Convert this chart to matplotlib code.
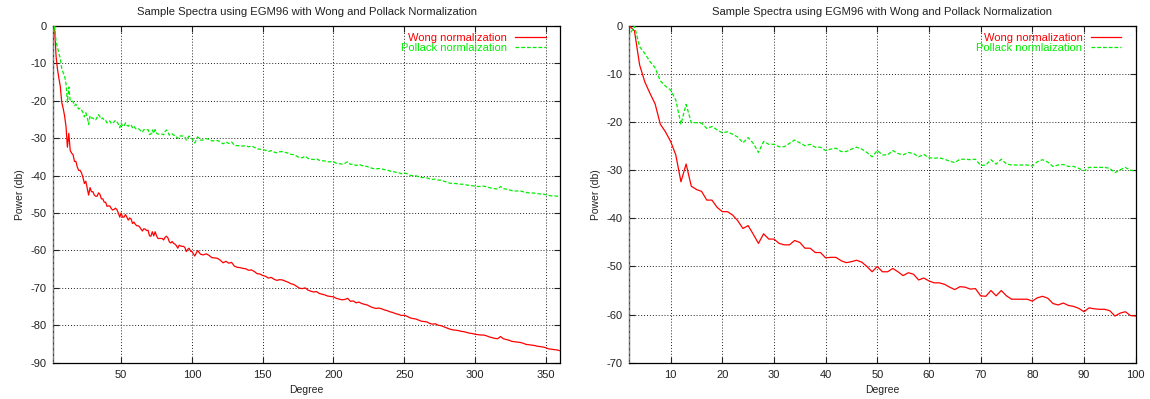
import numpy as np
import matplotlib
matplotlib.use('Agg')
import matplotlib.pyplot as plt

plt.rcParams['font.family'] = ['Liberation Sans', 'DejaVu Sans']
plt.rcParams['axes.unicode_minus'] = False

# degrees 2..100 read one by one, 102..360 read every second degree
deg_low = list(range(2, 101))
deg_high = list(range(102, 361, 2))
degrees = [2] + deg_low + deg_high

# both curves drop off the bottom at the first degree (vertical line on the axis)
floor_db = -100.0

wong_low = [
    0.0, -1.0, -8.1, -11.6, -14.0, -16.2, -20.4, -22.0, -24.0, -26.8,
    -32.4, -28.7, -33.3, -34.0, -34.4, -36.2, -36.2, -37.7, -38.6, -38.6,
    -39.3, -40.5, -42.1, -41.5, -43.3, -45.2, -43.2, -44.3, -44.3, -45.2,
    -45.5, -45.5, -44.6, -45.0, -46.2, -46.2, -47.1, -47.1, -48.2, -48.1,
    -48.1, -48.8, -49.2, -49.0, -48.7, -49.1, -50.0, -51.1, -50.0, -51.1,
    -51.1, -50.4, -51.1, -51.9, -51.3, -51.6, -52.8, -52.4, -53.0, -53.4,
    -53.4, -53.7, -54.3, -54.8, -54.2, -54.3, -54.7, -54.6, -56.1, -56.2,
    -55.0, -56.1, -55.0, -56.1, -56.8, -56.8, -56.8, -56.8, -57.2, -56.5,
    -56.2, -56.6, -57.7, -58.0, -57.6, -58.1, -58.3, -58.7, -59.4, -58.6,
    -58.8, -58.9, -58.9, -59.2, -60.3, -59.7, -59.4, -60.2, -60.3,
]
wong_high = [
    -61.5, -60.0, -61.0, -61.2, -60.9, -61.3, -61.9, -62.0, -62.1, -62.6,
    -63.3, -62.9, -63.4, -63.2, -64.2, -64.5, -64.6, -64.8, -64.9, -65.3,
    -65.2, -65.6, -66.2, -66.3, -66.7, -66.9, -67.4, -67.2, -67.7, -68.0,
    -67.8, -67.9, -68.2, -68.5, -68.9, -69.1, -69.6, -70.1, -70.2, -70.0,
    -70.6, -70.9, -71.1, -71.0, -71.5, -71.7, -71.9, -72.2, -72.3, -72.4,
    -72.8, -73.0, -73.2, -73.1, -72.8, -73.6, -73.5, -74.0, -73.8, -74.2,
    -74.4, -74.6, -75.0, -75.3, -75.5, -75.4, -75.6, -75.9, -76.1, -76.4,
    -76.6, -76.9, -77.1, -77.4, -77.3, -77.6, -78.0, -78.2, -78.3, -78.6,
    -78.9, -79.0, -79.1, -79.5, -79.7, -79.6, -80.0, -80.1, -80.4, -80.7,
    -81.0, -81.2, -81.3, -81.4, -81.6, -81.7, -81.9, -82.1, -82.2, -82.4,
    -82.5, -82.6, -82.6, -82.8, -83.1, -83.3, -83.5, -83.6, -83.0, -83.6,
    -83.8, -84.0, -84.3, -84.4, -84.5, -84.6, -84.8, -85.1, -85.2, -85.3,
    -85.4, -85.6, -85.7, -85.8, -86.0, -86.3, -86.4, -86.5, -86.6, -86.8,
]

pollack_low = [
    -2.0, 0.0, -4.3, -5.7, -7.4, -8.7, -11.4, -12.5, -13.3, -15.4,
    -20.4, -16.3, -20.1, -20.1, -20.2, -21.3, -20.9, -21.6, -22.2, -22.0,
    -22.5, -23.1, -24.3, -23.2, -24.4, -26.3, -24.0, -24.6, -24.6, -25.1,
    -25.1, -24.4, -23.7, -24.3, -24.9, -24.6, -25.2, -25.2, -25.9, -25.6,
    -25.4, -26.1, -26.1, -25.6, -25.2, -25.6, -26.3, -27.2, -25.9, -26.8,
    -26.8, -25.9, -26.5, -26.8, -26.3, -26.5, -27.2, -26.7, -27.4, -27.5,
    -27.4, -27.7, -28.1, -28.4, -27.7, -27.7, -27.8, -27.7, -29.0, -28.9,
    -27.8, -28.7, -27.7, -28.7, -28.9, -28.9, -28.9, -28.9, -29.1, -28.2,
    -27.8, -28.3, -29.2, -28.9, -28.8, -29.2, -29.2, -29.6, -30.1, -29.4,
    -29.4, -29.4, -29.4, -29.6, -30.5, -29.9, -29.4, -30.0, -30.1,
]
pollack_high = [
    -31.3, -29.6, -30.5, -30.5, -30.1, -30.3, -30.7, -30.7, -30.6, -31.0,
    -31.5, -31.0, -31.4, -31.0, -31.9, -32.0, -32.0, -32.1, -32.0, -32.3,
    -32.1, -32.4, -32.9, -32.9, -33.1, -33.2, -33.6, -33.3, -33.7, -33.9,
    -33.6, -33.6, -33.8, -34.0, -34.3, -34.4, -34.8, -35.2, -35.2, -34.8,
    -35.4, -35.6, -35.7, -35.5, -35.9, -36.0, -36.1, -36.3, -36.3, -36.3,
    -36.7, -36.8, -36.9, -36.7, -36.3, -37.0, -36.9, -37.3, -37.0, -37.3,
    -37.4, -37.6, -37.9, -38.1, -38.2, -38.1, -38.2, -38.4, -38.5, -38.8,
    -38.9, -39.1, -39.2, -39.5, -39.3, -39.5, -39.9, -40.0, -40.0, -40.3,
    -40.5, -40.5, -40.6, -40.9, -41.0, -40.9, -41.2, -41.2, -41.5, -41.7,
    -42.0, -42.1, -42.1, -42.2, -42.3, -42.3, -42.5, -42.6, -42.7, -42.8,
    -42.9, -42.9, -42.8, -43.0, -43.2, -43.4, -43.5, -43.6, -42.9, -43.5,
    -43.6, -43.8, -44.0, -44.1, -44.1, -44.1, -44.3, -44.5, -44.6, -44.6,
    -44.7, -44.8, -44.9, -44.9, -45.1, -45.3, -45.4, -45.4, -45.5, -45.6,
]

wong = [floor_db] + wong_low + wong_high
pollack = [floor_db] + pollack_low + pollack_high

title = 'Sample Spectra using EGM96 with Wong and Pollack Normalization'
panels = [
    # xlim, ylim, xticks
    ((2, 360), (-90, 0), list(range(50, 351, 50))),
    ((2, 100), (-70, 0), list(range(10, 101, 10))),
]


def dandify_axes(ax):
    ax.grid(True, color='#222222', linestyle=(0, (1, 2)), linewidth=0.7)
    ax.tick_params(direction='in', top=True, right=True, length=4,
                   width=0.8, labelsize=8, pad=5, colors='#222222')
    for sp in ax.spines.values():
        sp.set_linewidth(0.9)


fig = plt.figure(figsize=(11.5, 3.99), dpi=100)
boxes = [[0.0463, 0.091, 0.4406, 0.8439], [0.5472, 0.091, 0.4403, 0.8439]]

for box, (xlim, ylim, xticks) in zip(boxes, panels):
    ax = fig.add_axes(box)
    ax.plot(degrees, wong, color='#ff0000', lw=0.9,
            label='Wong normalization', zorder=3)
    ax.plot(degrees, pollack, color='#00ee00', lw=0.9, dashes=(3, 1.6),
            label='Pollack normlaization', zorder=3)
    ax.set_xlim(*xlim)
    ax.set_ylim(*ylim)
    ax.set_xticks(xticks)
    ax.set_yticks(list(range(ylim[0], 1, 10)))
    ax.set_title(title, fontsize=8.1, color='#222222', pad=8)
    ax.set_xlabel('Degree', fontsize=7.5, color='#222222', labelpad=4)
    ax.set_ylabel('Power (db)', fontsize=7.5, color='#222222', labelpad=4)
    ax.legend(loc='upper right', bbox_to_anchor=(0.987, 1.003),
              frameon=False, markerfirst=False, labelcolor='linecolor',
              fontsize=8, handlelength=2.75, handletextpad=0.75,
              labelspacing=0.05, borderpad=0.2)
    dandify_axes(ax)

fig.savefig('out.png', dpi=100)
